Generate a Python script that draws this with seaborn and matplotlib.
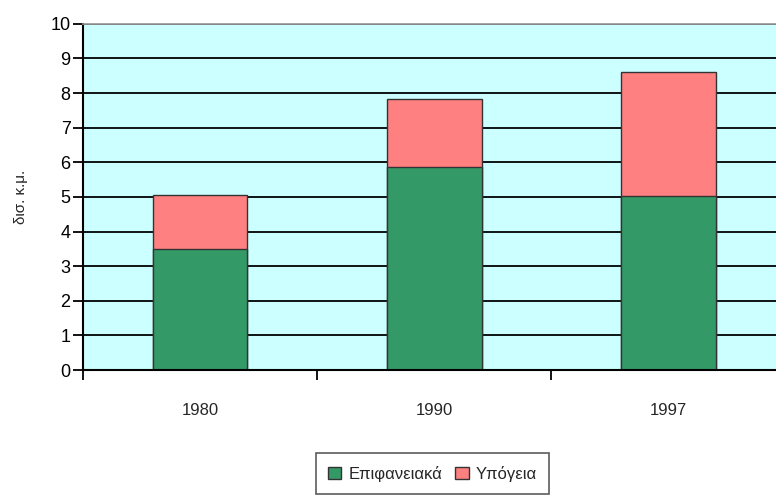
import matplotlib
matplotlib.use("Agg")
import matplotlib.pyplot as plt
import seaborn as sns
import pandas as pd
from matplotlib.patches import Patch

years = ["1980", "1990", "1997"]
surface = [3.5, 5.85, 5.03]
ground = [1.55, 1.97, 3.58]

green = "#339966"
pink = "#FF8080"

sns.set_theme(style="white")
plt.rcParams["font.family"] = ["Liberation Sans Narrow", "Liberation Sans", "DejaVu Sans"]

df = pd.DataFrame({"year": years, "surface": surface, "ground": ground})
df["total"] = df["surface"] + df["ground"]

fig = plt.figure(figsize=(7.76, 4.96), dpi=100)
ax = fig.add_axes([0.107, 0.254, 0.893, 0.698])
ax.set_facecolor("#CCFFFF")
ax.set_axisbelow(True)
ax.yaxis.grid(True, color="black", linewidth=1.3)

# total height in pink, surface water drawn over it in green
sns.barplot(data=df, x="year", y="total", color=pink, width=0.405,
            edgecolor="#333333", linewidth=1, saturation=1, ax=ax)
sns.barplot(data=df, x="year", y="surface", color=green, width=0.405,
            edgecolor="#333333", linewidth=1, saturation=1, ax=ax)

ax.set_xlim(-0.5, 2.46)
ax.set_ylim(0, 10)
ax.set_yticks(range(0, 11))
ax.set_xlabel("")
ax.set_ylabel("δισ. κ.μ.", fontsize=11, labelpad=16)

ax.tick_params(axis="y", left=True, length=7, width=1.3, direction="out",
               labelsize=13, colors="black", pad=2)
ax.tick_params(axis="x", which="major", bottom=False, labelsize=12, pad=18)
ax.set_xticks([-0.5, 0.5, 1.5], minor=True)
ax.tick_params(axis="x", which="minor", bottom=True, length=7, width=1.3,
               direction="out", color="black")

ax.spines["right"].set_visible(False)
ax.spines["top"].set_color("#999999")
ax.spines["left"].set_color("black")
ax.spines["bottom"].set_color("black")
ax.spines["left"].set_linewidth(1.5)
ax.spines["bottom"].set_linewidth(1.5)

handles = [Patch(facecolor=green, edgecolor="#333333", label="Επιφανειακά"),
           Patch(facecolor=pink, edgecolor="#333333", label="Υπόγεια")]
leg = fig.legend(handles=handles, loc="center", bbox_to_anchor=(0.557, 0.045),
                 ncol=2, frameon=True, fontsize=12, handlelength=0.8,
                 handleheight=0.8, handletextpad=0.4, columnspacing=0.8,
                 fancybox=False, borderpad=0.75)
leg.get_frame().set_edgecolor("#333333")
leg.get_frame().set_linewidth(1.2)

fig.savefig("out.png", dpi=100)
